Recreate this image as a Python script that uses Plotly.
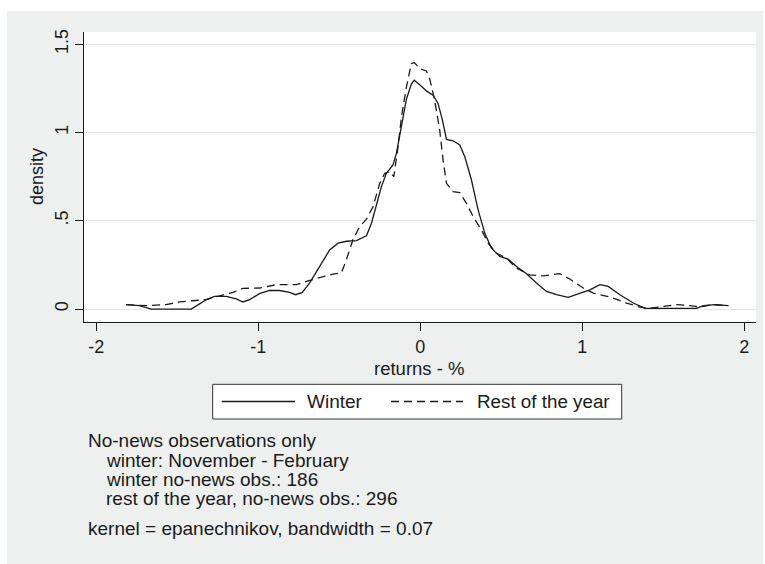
import plotly.graph_objects as go

# ---- data ----
winter_x = [-1.815, -1.733, -1.66, -1.55, -1.413, -1.32, -1.27, -1.197, -1.135, -1.094,
            -1.053, -0.992, -0.93, -0.868, -0.806, -0.769, -0.728, -0.683, -0.621, -0.559,
            -0.507, -0.456, -0.394, -0.332, -0.301, -0.27, -0.24, -0.209, -0.168, -0.147,
            -0.116, -0.085, -0.055, -0.037, -0.003, 0.038, 0.079, 0.11, 0.137, 0.162,
            0.203, 0.244, 0.275, 0.316, 0.357, 0.398, 0.439, 0.491, 0.542, 0.594,
            0.656, 0.717, 0.779, 0.841, 0.913, 0.964, 1.047, 1.109, 1.16, 1.232,
            1.315, 1.387, 1.55, 1.706, 1.747, 1.819, 1.901]
winter_y = [0.025, 0.019, 0.0, 0.0, 0.0, 0.053, 0.072, 0.072, 0.057, 0.04,
            0.053, 0.087, 0.105, 0.105, 0.094, 0.081, 0.094, 0.147, 0.241, 0.335,
            0.373, 0.384, 0.388, 0.415, 0.486, 0.599, 0.693, 0.769, 0.816, 0.882,
            1.033, 1.19, 1.274, 1.296, 1.27, 1.236, 1.212, 1.165, 1.07, 0.961,
            0.953, 0.929, 0.863, 0.731, 0.562, 0.43, 0.345, 0.298, 0.283, 0.241,
            0.2, 0.147, 0.1, 0.081, 0.066, 0.081, 0.109, 0.138, 0.128, 0.081,
            0.034, 0.004, 0.004, 0.004, 0.019, 0.025, 0.019]

rest_x = [-1.815, -1.691, -1.568, -1.486, -1.403, -1.321, -1.239, -1.156, -1.094, -0.991,
          -0.888, -0.765, -0.683, -0.6, -0.539, -0.487, -0.456, -0.415, -0.374, -0.332,
          -0.291, -0.25, -0.219, -0.188, -0.163, -0.137, -0.116, -0.085, -0.055, -0.036,
          -0.003, 0.038, 0.058, 0.089, 0.12, 0.141, 0.162, 0.203, 0.244, 0.285,
          0.326, 0.378, 0.419, 0.47, 0.532, 0.594, 0.676, 0.758, 0.861, 0.923,
          1.006, 1.068, 1.17, 1.273, 1.355, 1.417, 1.499, 1.582, 1.664, 1.726,
          1.808, 1.901]
rest_y = [0.025, 0.019, 0.025, 0.040, 0.047, 0.053, 0.075, 0.094, 0.117, 0.119,
          0.138, 0.138, 0.162, 0.185, 0.198, 0.204, 0.279, 0.392, 0.467, 0.509,
          0.58, 0.712, 0.769, 0.778, 0.75, 0.92, 1.089, 1.259, 1.391, 1.396,
          1.362, 1.349, 1.306, 1.183, 1.014, 0.844, 0.712, 0.665, 0.66, 0.599,
          0.524, 0.448, 0.373, 0.317, 0.288, 0.232, 0.194, 0.188, 0.2, 0.17,
          0.119, 0.09, 0.068, 0.034, 0.011, 0.004, 0.015, 0.025, 0.019, 0.011,
          0.025, 0.019]

x_ticks = [-2, -1, 0, 1, 2]
x_tick_labels = ["-2", "-1", "0", "1", "2"]
y_ticks = [0, 0.5, 1, 1.5]
y_tick_labels = ["0", ".5", "1", "1.5"]

series_names = ["Winter", "Rest of the year"]
x_title = "returns - %"
y_title = "density"
notes = [
    ("No-news observations only", 0),
    ("winter: November - February", 1),
    ("winter no-news obs.: 186", 1),
    ("rest of the year, no-news obs.: 296", 1),
    ("kernel = epanechnikov, bandwidth = 0.07", 0),
]

# ---- layout geometry (pixels) ----
WIDTH, HEIGHT = 765, 564
L, R, T, B = 84, 9, 32, 242
PW = WIDTH - L - R
PH = HEIGHT - T - B


def px(X):
    return (X - L) / PW


def py(Y):
    return (HEIGHT - B - Y) / PH


INK = "#1a1a1a"
BG = "#eef0ef"
FONT = "Liberation Sans, Arial, Helvetica, sans-serif"
DASH = "8px,5px"

fig = go.Figure()
fig.add_trace(go.Scatter(x=winter_x, y=winter_y, mode="lines", name=series_names[0],
                         line=dict(color=INK, width=1.3), showlegend=False))
fig.add_trace(go.Scatter(x=rest_x, y=rest_y, mode="lines", name=series_names[1],
                         line=dict(color=INK, width=1.3, dash=DASH), showlegend=False))

fig.update_layout(
    width=WIDTH, height=HEIGHT,
    margin=dict(l=L, r=R, t=T, b=B, autoexpand=False),
    paper_bgcolor=BG, plot_bgcolor="white",
    font=dict(family=FONT, size=18, color=INK),
    showlegend=False,
)
fig.update_xaxes(
    range=[-2.075, 2.072], tickvals=x_ticks, ticktext=x_tick_labels,
    showgrid=False, zeroline=False, showline=True, linecolor=INK, linewidth=1,
    ticks="outside", ticklen=8, tickwidth=1, tickcolor=INK,
    tickfont=dict(size=18, color=INK),
)
fig.update_yaxes(
    range=[-0.0735, 1.5695], tickvals=y_ticks, ticktext=y_tick_labels,
    showgrid=True, gridcolor="#e6e6e6", gridwidth=1, zeroline=False,
    showline=True, linecolor=INK, linewidth=1,
    ticks="outside", ticklen=8, tickwidth=1, tickcolor=INK,
    tickangle=-90, tickfont=dict(size=18, color=INK),
)

shapes = []
# white outer margin strips (outside the gray graph region)
for (x0, x1, y0, y1) in [(0, 7, 0, HEIGHT), (0, WIDTH, 0, 11), (763, WIDTH, 0, HEIGHT)]:
    shapes.append(dict(type="rect", xref="paper", yref="paper",
                       x0=px(x0), x1=px(x1), y0=py(y1), y1=py(y0),
                       fillcolor="white", line=dict(width=0), layer="below"))
# legend box
shapes.append(dict(type="rect", xref="paper", yref="paper",
                   x0=px(212.7), x1=px(621.7), y0=py(419), y1=py(384.3),
                   fillcolor="white", line=dict(color="#333333", width=1)))
leg_y = py(401.5)
shapes.append(dict(type="line", xref="paper", yref="paper",
                   x0=px(221.7), x1=px(295), y0=leg_y, y1=leg_y,
                   line=dict(color=INK, width=1.3)))
shapes.append(dict(type="line", xref="paper", yref="paper",
                   x0=px(391), x1=px(463), y0=leg_y, y1=leg_y,
                   line=dict(color=INK, width=1.3, dash=DASH)))
fig.update_layout(shapes=shapes)

ann = []
ann.append(dict(text=y_title, xref="paper", yref="paper", x=px(37), y=0.5,
                textangle=-90, showarrow=False, xanchor="center", yanchor="middle",
                font=dict(size=18, color=INK)))
ann.append(dict(text=x_title, xref="paper", yref="paper", x=px(419), y=py(368),
                showarrow=False, xanchor="center", yanchor="middle",
                font=dict(size=18.5, color=INK)))
ann.append(dict(text=series_names[0], xref="paper", yref="paper", x=px(305), y=leg_y,
                showarrow=False, xanchor="left", yanchor="middle",
                font=dict(size=19, color=INK)))
ann.append(dict(text=series_names[1], xref="paper", yref="paper", x=px(475), y=leg_y,
                showarrow=False, xanchor="left", yanchor="middle",
                font=dict(size=18.8, color=INK)))
note_y = [440, 460, 479.5, 498.5, 528]
for (txt, indent), yy in zip(notes, note_y):
    ann.append(dict(text=txt, xref="paper", yref="paper",
                    x=px(86 if indent == 0 else 104), y=py(yy),
                    showarrow=False, xanchor="left", yanchor="middle",
                    font=dict(size=19, color=INK)))
fig.update_layout(annotations=ann)

fig.write_html("out.html")
